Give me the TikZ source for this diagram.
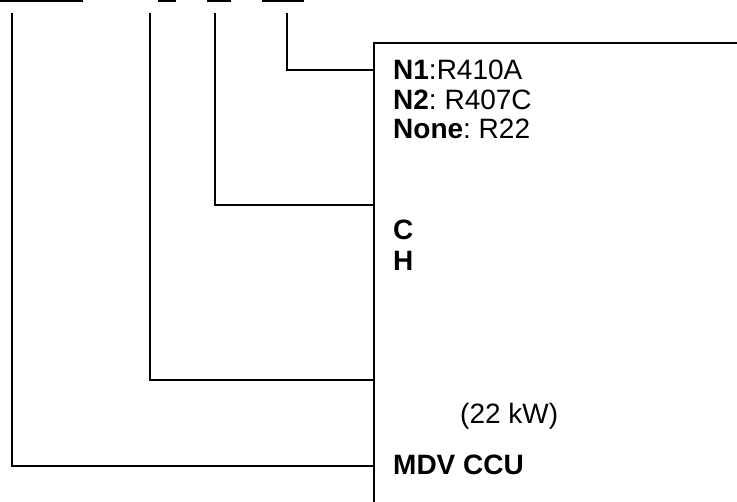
\documentclass[tikz,border=0pt]{standalone}
\usepackage{fontspec}
\setmainfont{Liberation Sans}
\frenchspacing
\tikzset{
  lbl/.style={anchor=base west, inner sep=0pt, font=\fontsize{28}{31}\selectfont},
  wire/.style={line width=1.6pt},
}
\begin{document}
\begin{tikzpicture}[x=1pt,y=-1pt]
  \useasboundingbox (0,0) rectangle (737,502);
  % bars along the top edge
  \fill (0,0) rectangle (83,2);
  \fill (158,0) rectangle (176,2);
  \fill (207,0) rectangle (231,2);
  \fill (262,0) rectangle (304,2);
  % frame
  \draw[wire] (374,502) |- (737,43);
  \coordinate (t1) at (12,13);
  \coordinate (t2) at (150,13);
  \coordinate (t3) at (215,13);
  \coordinate (t4) at (287,13);
  \coordinate (b1) at (374,466);
  \coordinate (b2) at (374,380);
  \coordinate (b3) at (374,205);
  \coordinate (b4) at (374,70);
  \draw[wire] (t1) |- (b1);
  \draw[wire] (t2) |- (b2);
  \draw[wire] (t3) |- (b3);
  \draw[wire] (t4) |- (b4);
  \node[lbl] (n1) at (393,80) {\textbf{N1}:R410A};
  \node[lbl] (n2) at (393,110) {\textbf{N2}: R407C};
  \node[lbl] (none) at (393,139) {\textbf{None}: R22};
  \node[lbl] (c) at (393,240) {\textbf{C}};
  \node[lbl] (h) at (393,271) {\textbf{H}};
  \node[lbl] (kw) at (460,424) {(22 kW)};
  \node[lbl] (mdv) at (393,475) {\textbf{MDV CCU}};
\end{tikzpicture}
\end{document}
